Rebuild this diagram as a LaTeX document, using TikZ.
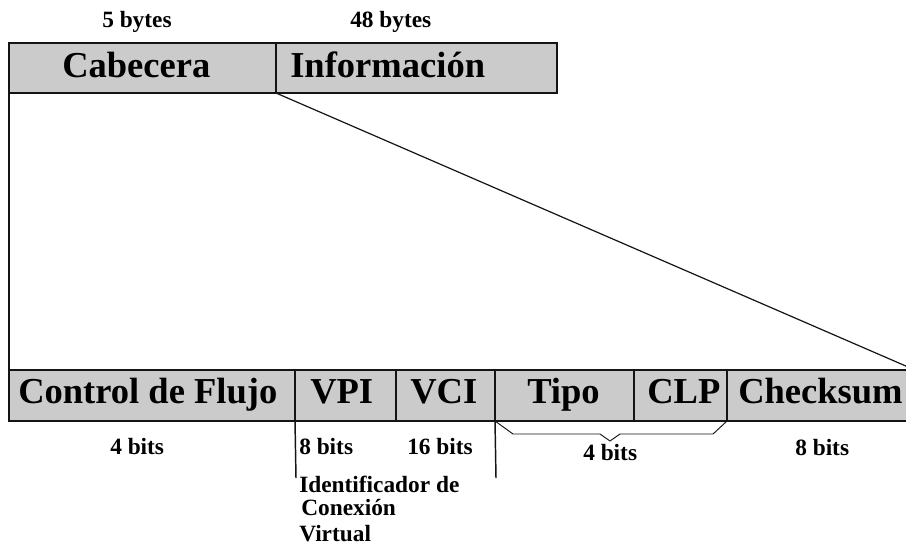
\documentclass[tikz,border=0pt]{standalone}
\usepackage{fontspec}
\setmainfont{Liberation Serif}
\definecolor{cellgray}{RGB}{203,203,203}
\definecolor{inkc}{RGB}{20,20,20}
\begin{document}
\begin{tikzpicture}[x=0.75pt,y=-0.75pt,
  cellbox/.style={draw=inkc,line width=1.3pt,fill=cellgray,inner sep=0pt,outer sep=0pt},
  bigtxt/.style={font=\fontsize{27.4}{30}\selectfont\bfseries,inner sep=0pt,anchor=base west,text=black},
  smalltxt/.style={font=\fontsize{17.5}{20}\selectfont\bfseries,inner sep=0pt,anchor=base west,text=black},
  thinline/.style={draw=inkc,line width=0.9pt},
  midline/.style={draw=inkc,line width=1.1pt}]
\useasboundingbox (0,0) rectangle (906,547);
\clip (0,0) rectangle (906,547);
\fill[white] (0,0) rectangle (906,547);
% top cells
\node[cellbox,minimum width=200.25pt,minimum height=37.5pt] (cab) at (142.5,68) {};
\node[cellbox,minimum width=210.75pt,minimum height=37.5pt] (info) at (416.5,68) {};
% bottom cells
\node[cellbox,minimum width=214.5pt,minimum height=38.25pt] (cf) at (152,395.5) {};
\node[cellbox,minimum width=75.75pt,minimum height=38.25pt] (vpi) at (345.5,395.5) {};
\node[cellbox,minimum width=74.25pt,minimum height=38.25pt] (vci) at (445.5,395.5) {};
\node[cellbox,minimum width=104.25pt,minimum height=38.25pt] (tipo) at (564.5,395.5) {};
\node[cellbox,minimum width=69.75pt,minimum height=38.25pt] (clp) at (680.5,395.5) {};
\node[cellbox,minimum width=141pt,minimum height=38.25pt] (chk) at (821,395.5) {};
% texts in cells
\node[bigtxt] (tcab) at (62,77) {Cabecera};
\node[bigtxt] (tinfo) at (290,77) {Información};
\node[bigtxt] (tcf) at (18,403) {Control de Flujo};
\node[bigtxt] (tvpi) at (310,403) {VPI};
\node[bigtxt] (tvci) at (410,403) {VCI};
\node[bigtxt] (ttipo) at (527,403) {Tipo};
\node[bigtxt] (tclp) at (647,403) {CLP};
\node[bigtxt] (tchk) at (738,403) {Checksum};
% size labels
\node[smalltxt] (l5) at (102,27) {5 bytes};
\node[smalltxt] (l48) at (350,27) {48 bytes};
\node[smalltxt] (l4a) at (110,454) {4 bits};
\node[smalltxt] (l8a) at (299,454) {8 bits};
\node[smalltxt] (l16) at (407,454) {16 bits};
\node[smalltxt] (l4b) at (583,460) {4 bits};
\node[smalltxt] (l8b) at (795,455) {8 bits};
\node[smalltxt] (id1) at (299,492) {Identificador de};
\node[smalltxt] (id2) at (301,515) {Conexión};
\node[smalltxt] (id3) at (299,541) {Virtual};
% connectors
\draw[midline] (cab.south west) -- (cf.north west);
\draw[thinline] (info.south west) -- (chk.north east);
\coordinate (vend1) at (296,478);
\coordinate (vend2) at (496,478);
\draw[midline] (vpi.south west) -- (vend1);
\draw[midline] (tipo.south west) -- (vend2);
% brace
\coordinate (b1) at (513,434);
\coordinate (b2) at (600,434);
\coordinate (btip) at (610,441);
\coordinate (b3) at (620,434);
\coordinate (b4) at (713,434);
\draw[thinline,line width=0.7pt] (tipo.south west) -- (b1) -- (b2) -- (btip) -- (b3) -- (b4) -- (clp.south east);
\end{tikzpicture}
\end{document}
